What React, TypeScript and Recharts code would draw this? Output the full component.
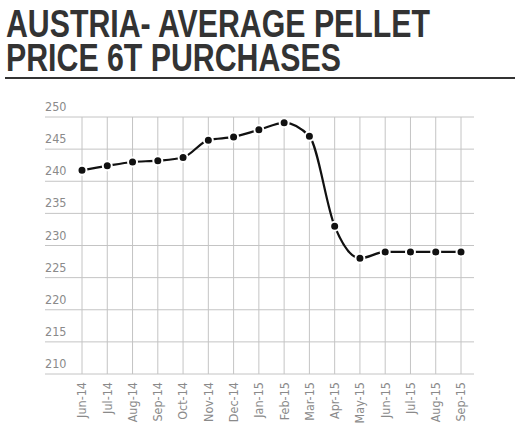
import React from 'react';
import { LineChart, Line, XAxis, YAxis, CartesianGrid, ReferenceLine } from 'recharts';

// months on the x axis
const months = [
  'Jun-14', 'Jul-14', 'Aug-14', 'Sep-14', 'Oct-14', 'Nov-14', 'Dec-14', 'Jan-15',
  'Feb-15', 'Mar-15', 'Apr-15', 'May-15', 'Jun-15', 'Jul-15', 'Aug-15', 'Sep-15',
];

// average price (EUR/t)
const prices = [
  241.7, 242.4, 243.0, 243.2, 243.7, 246.4, 246.9, 248.0,
  249.1, 247.0, 233.0, 228.0, 229.0, 229.0, 229.0, 229.0,
];

const yTicks = [210, 215, 220, 225, 230, 235, 240, 245, 250];

const titleLines = ['AUSTRIA- AVERAGE PELLET', 'PRICE 6T PURCHASES'];

const data = months.map((m, i) => ({ month: m, price: prices[i] }));

const labelFont = '"DejaVu Sans Condensed", "Liberation Sans Narrow", sans-serif';
const titleFont = '"Liberation Sans", Arial, sans-serif';

const YTick = (props: any) => {
  const { y, payload } = props;
  return (
    <text x={45} y={y - 6} fill="#8a8a8a" fontSize={12.5} fontFamily={labelFont} textAnchor="start">
      {payload.value}
    </text>
  );
};

const XTick = (props: any) => {
  const { x, y, payload } = props;
  return (
    <text
      x={x}
      y={y + 2}
      dy="0.35em"
      transform={`rotate(-90, ${x}, ${y + 2})`}
      fill="#8a8a8a"
      fontSize={12.5}
      fontFamily={labelFont}
      textAnchor="end"
    >
      {payload.value}
    </text>
  );
};

const App = () => {
  return (
    <div style={{ position: 'absolute', left: 0, top: 0, width: 523, height: 423, background: '#fff' }}>
      <svg width={523} height={90} style={{ position: 'absolute', left: 0, top: 0 }}>
        <text x={6} y={37} fontFamily={titleFont} fontWeight="bold" fontSize={38} fill="#333"
          textLength={424} lengthAdjust="spacingAndGlyphs">
          {titleLines[0]}
        </text>
        <text x={6} y={71} fontFamily={titleFont} fontWeight="bold" fontSize={38} fill="#333"
          textLength={335} lengthAdjust="spacingAndGlyphs">
          {titleLines[1]}
        </text>
        <rect x={5} y={77} width={510} height={2} fill="#333" />
      </svg>
      <div style={{ position: 'absolute', left: 0, top: 0 }}>
        <LineChart width={523} height={423} data={data} margin={{ top: 117, right: 49, bottom: 0, left: 0 }}>
          <CartesianGrid stroke="#c4c4c4" strokeWidth={1} vertical={false} />
          {months.map((m) => (
            <ReferenceLine key={m} x={m} stroke="#c4c4c4" strokeWidth={1} />
          ))}
          <XAxis
            dataKey="month"
            interval={0}
            axisLine={false}
            tickLine={false}
            tickMargin={0}
            padding={{ left: 37, right: 13 }}
            tick={<XTick />}
            height={49}
          />
          <YAxis
            domain={[210, 250]}
            ticks={yTicks}
            width={45}
            axisLine={false}
            tickLine={false}
            tick={<YTick />}
            interval={0}
          />
          <Line
            type="monotone"
            dataKey="price"
            stroke="#111"
            strokeWidth={2.2}
            dot={{ r: 4.5, fill: '#111', stroke: '#fff', strokeWidth: 2 }}
            isAnimationActive={false}
          />
        </LineChart>
      </div>
    </div>
  );
};

export default App;
